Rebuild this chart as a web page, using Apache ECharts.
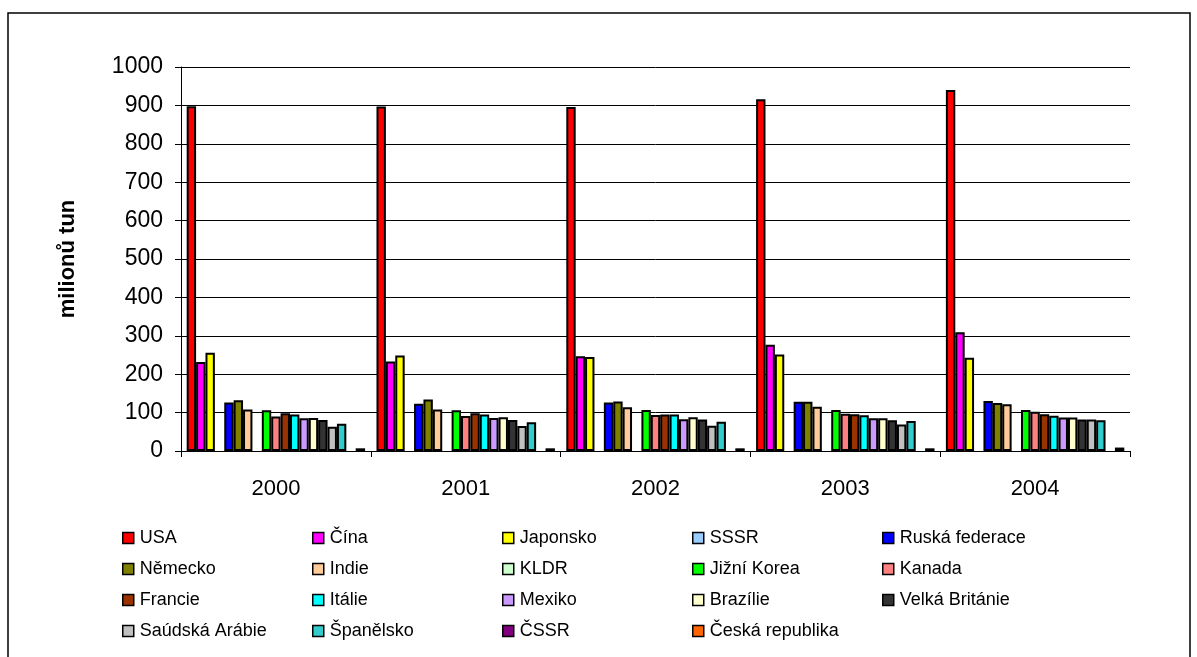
<!DOCTYPE html>
<html>
<head>
<meta charset="utf-8">
<title>milionů tun</title>
<script src="https://cdn.jsdelivr.net/npm/echarts@6/dist/echarts.min.js"></script>
<style>
  html, body { margin: 0; padding: 0; background: #fff; }
  #chart { width: 1197px; height: 657px; }
</style>
</head>
<body>
<div id="chart"></div>
<script>
// roky na ose x
var years = ['2000', '2001', '2002', '2003', '2004'];

// zeme v poradi sloupcu (a legendy)
var countries = ['USA', 'Čína', 'Japonsko', 'SSSR', 'Ruská federace',
  'Německo', 'Indie', 'KLDR', 'Jižní Korea', 'Kanada',
  'Francie', 'Itálie', 'Mexiko', 'Brazílie', 'Velká Británie',
  'Saúdská Arábie', 'Španělsko', 'ČSSR', 'Česká republika'];

var colors = ['#FF0000', '#FF00FF', '#FFFF00', '#99CCFF', '#0000FF',
  '#808000', '#FFCC99', '#CCFFCC', '#00FF00', '#FF8080',
  '#993300', '#00FFFF', '#CC99FF', '#FFFFCC', '#333333',
  '#C0C0C0', '#33CCCC', '#800080', '#FF6600'];

// hodnoty v milionech tun
var usa = [898, 897, 896, 916, 940];
var cina = [232, 233, 247, 277, 309];
var japonsko = [256, 249, 245, 251, 243];
var sssr = [null, null, null, null, null];
var rusko = [126, 123, 126, 128, 130];
var nemecko = [132, 134, 129, 128, 125];
var indie = [108, 108, 114, 115, 122];
var kldr = [null, null, null, null, null];
var korea = [106, 106, 107, 107, 107];
var kanada = [90, 91, 94, 97, 102];
var francie = [98, 98, 95, 96, 96];
var italie = [95, 95, 95, 93, 92];
var mexiko = [85, 86, 83, 85, 87];
var brazilie = [86, 88, 88, 85, 87];
var britanie = [81, 81, 82, 80, 82];
var saudska = [63, 65, 66, 69, 82];
var spanelsko = [71, 75, 76, 78, 80];
var cssr = [null, null, null, null, null];
var cesko = [7, 7, 7, 7, 9];

var values = [usa, cina, japonsko, sssr, rusko, nemecko, indie, kldr, korea, kanada,
  francie, italie, mexiko, brazilie, britanie, saudska, spanelsko, cssr, cesko];

var yTicks = [0, 100, 200, 300, 400, 500, 600, 700, 800, 900, 1000];

var font = '"Liberation Sans", Arial, sans-serif';

var series = countries.map(function (name, i) {
  return {
    name: name,
    type: 'bar',
    data: values[i],
    barGap: '0%',
    barCategoryGap: '6%',
    itemStyle: { color: colors[i], borderColor: '#000', borderWidth: 2 },
    emphasis: { disabled: true },
    animation: false
  };
});

// legenda: 5 sloupcu po 4 radcich
var legends = [];
for (var c = 0; c < 5; c++) {
  var items = [];
  for (var r = 0; r < 4; r++) {
    var k = r * 5 + c;
    if (k < countries.length) items.push(countries[k]);
  }
  legends.push({
    data: items,
    orient: 'vertical',
    left: 122 + c * 190,
    top: 528,
    padding: 0,
    itemWidth: 11,
    itemHeight: 11,
    itemGap: 11,
    icon: 'rect',
    selectedMode: false,
    itemStyle: { borderColor: '#000', borderWidth: 1.5 },
    textStyle: { fontFamily: font, fontSize: 18, color: '#000', lineHeight: 20, padding: [0, 0, 0, 1] }
  });
}

var chart = echarts.init(document.getElementById('chart'));
chart.setOption({
  backgroundColor: '#fff',
  animation: false,
  color: colors,
  graphic: [{
    type: 'rect',
    shape: { x: 8, y: 13, width: 1182, height: 700 },
    style: { fill: 'none', stroke: '#000', lineWidth: 1.5 },
    silent: true
  }],
  legend: legends,
  grid: { left: 181, right: 67, top: 67, bottom: 206 },
  xAxis: {
    type: 'category',
    data: years,
    axisLine: { lineStyle: { color: '#000', width: 1 } },
    axisTick: { show: true, length: 6, lineStyle: { color: '#000' } },
    axisLabel: { fontFamily: font, fontSize: 22, color: '#000', margin: 27 }
  },
  yAxis: {
    type: 'value',
    min: yTicks[0],
    max: yTicks[yTicks.length - 1],
    interval: 100,
    name: 'milionů tun',
    nameLocation: 'middle',
    nameRotate: 90,
    nameGap: 102,
    nameTextStyle: { fontFamily: font, fontSize: 22, fontWeight: 'bold', color: '#000' },
    axisLine: { show: true, lineStyle: { color: '#000', width: 1 } },
    axisTick: { show: true, length: 6, lineStyle: { color: '#000' } },
    axisLabel: {
      fontFamily: font, fontSize: 23, color: '#000', margin: 18,
      formatter: function (v) { return String(v); }
    },
    splitLine: { lineStyle: { color: '#000', width: 1 } }
  },
  series: series
});
</script>
</body>
</html>
